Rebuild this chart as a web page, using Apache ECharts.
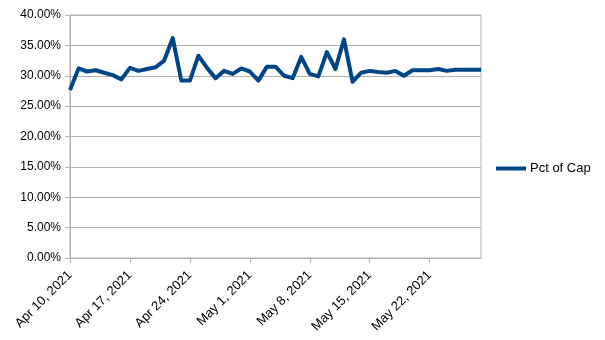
<!DOCTYPE html>
<html>
<head>
<meta charset="utf-8">
<script src="https://cdn.jsdelivr.net/npm/echarts@6/dist/echarts.min.js"></script>
<style>
  html, body { margin: 0; padding: 0; background: #ffffff; }
  #chart { width: 605px; height: 340px; }
</style>
</head>
<body>
<div id="chart"></div>
<script>
// Daily dates, Apr 10 – May 28, 2021
const dates = [
  'Apr 10, 2021','Apr 11, 2021','Apr 12, 2021','Apr 13, 2021','Apr 14, 2021','Apr 15, 2021','Apr 16, 2021',
  'Apr 17, 2021','Apr 18, 2021','Apr 19, 2021','Apr 20, 2021','Apr 21, 2021','Apr 22, 2021','Apr 23, 2021',
  'Apr 24, 2021','Apr 25, 2021','Apr 26, 2021','Apr 27, 2021','Apr 28, 2021','Apr 29, 2021','Apr 30, 2021',
  'May 1, 2021','May 2, 2021','May 3, 2021','May 4, 2021','May 5, 2021','May 6, 2021','May 7, 2021',
  'May 8, 2021','May 9, 2021','May 10, 2021','May 11, 2021','May 12, 2021','May 13, 2021','May 14, 2021',
  'May 15, 2021','May 16, 2021','May 17, 2021','May 18, 2021','May 19, 2021','May 20, 2021','May 21, 2021',
  'May 22, 2021','May 23, 2021','May 24, 2021','May 25, 2021','May 26, 2021','May 27, 2021','May 28, 2021'
];

// Percent of capacity (fraction)
const pctOfCap = [
  0.2766, 0.312, 0.307, 0.309, 0.305, 0.301, 0.294,
  0.313, 0.308, 0.311, 0.314, 0.325, 0.362, 0.292,
  0.292, 0.333, 0.313, 0.296, 0.308, 0.303, 0.312,
  0.307, 0.292, 0.315, 0.315, 0.300, 0.296, 0.331,
  0.303, 0.299, 0.339, 0.311, 0.360, 0.290, 0.305,
  0.308, 0.306, 0.305, 0.308, 0.300, 0.309, 0.309,
  0.309, 0.311, 0.308, 0.310, 0.310, 0.310, 0.310
];

const seriesName = 'Pct of Cap';
const axisGrey = '#b3b3b3';

const chart = echarts.init(document.getElementById('chart'), null, { renderer: 'canvas' });
chart.setOption({
  animation: false,
  backgroundColor: '#ffffff',
  grid: {
    left: 70, right: 124, top: 15, bottom: 82, containLabel: false,
    show: true, borderColor: axisGrey, borderWidth: 1, backgroundColor: 'transparent'
  },
  legend: {
    data: [{ name: seriesName, icon: 'rect' }],
    left: 496,
    top: 162,
    padding: 0,
    orient: 'vertical',
    itemWidth: 30,
    itemHeight: 4,
    textStyle: { fontFamily: 'Liberation Sans', fontSize: 13, color: '#000000', padding: [0, 0, 0, -1] }
  },
  xAxis: {
    type: 'category',
    data: dates,
    boundaryGap: false,
    axisLine: { lineStyle: { color: axisGrey, width: 1 } },
    axisTick: { show: true, interval: 6, length: 5, lineStyle: { color: axisGrey } },
    axisLabel: {
      interval: 6,
      rotate: 45,
      margin: 15,
      fontFamily: 'Liberation Sans',
      fontSize: 13,
      color: '#000000'
    },
    splitLine: { show: false }
  },
  yAxis: {
    type: 'value',
    min: 0,
    max: 0.4,
    interval: 0.05,
    axisLine: { show: true, lineStyle: { color: axisGrey, width: 1 } },
    axisTick: { show: true, length: 5, lineStyle: { color: axisGrey } },
    axisLabel: {
      formatter: v => (v * 100).toFixed(2) + '%',
      margin: 9,
      fontFamily: 'Liberation Sans',
      fontSize: 12,
      color: '#000000'
    },
    splitLine: { show: true, lineStyle: { color: axisGrey, width: 1 } }
  },
  series: [{
    name: seriesName,
    type: 'line',
    data: pctOfCap,
    showSymbol: false,
    symbol: 'none',
    lineStyle: { color: '#004586', width: 4, join: 'round' },
    itemStyle: { color: '#004586' }
  }]
});
</script>
</body>
</html>
